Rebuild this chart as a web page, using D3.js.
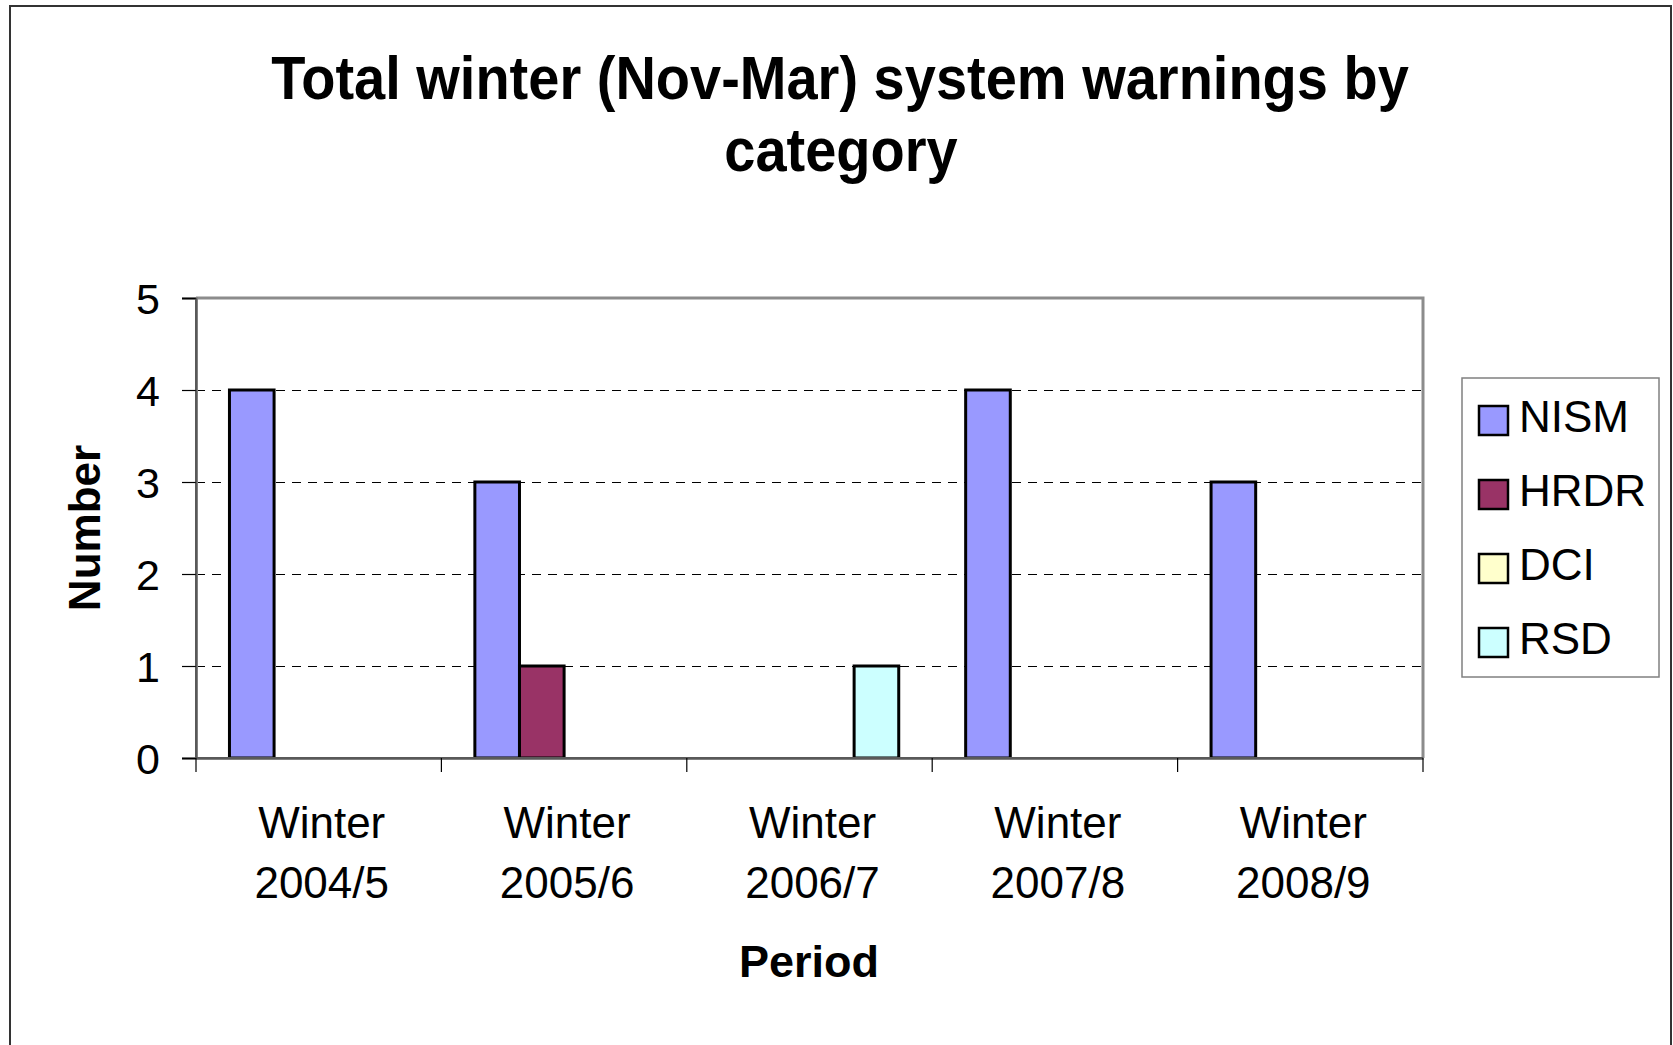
<!DOCTYPE html>
<html>
<head>
<meta charset="utf-8">
<script src="https://cdn.jsdelivr.net/npm/d3@7"></script>
<style>
  html, body { margin: 0; padding: 0; background: #fff; }
  svg { display: block; font-family: Arial, "Liberation Sans", sans-serif; }
</style>
</head>
<body>
<svg id="chart" width="1673" height="1045"></svg>
<script>
const categories = ["Winter 2004/5", "Winter 2005/6", "Winter 2006/7", "Winter 2007/8", "Winter 2008/9"];
const seriesNames = ["NISM", "HRDR", "DCI", "RSD"];
const seriesColors = ["#9999FF", "#993366", "#FFFFCC", "#CCFFFF"];
const NISM = [4, 3, 0, 4, 3];
const HRDR = [0, 1, 0, 0, 0];
const DCI  = [0, 0, 0, 0, 0];
const RSD  = [0, 0, 1, 0, 0];
const yTicks = [0, 1, 2, 3, 4, 5];
const titleLines = ["Total winter (Nov-Mar) system warnings by", "category"];
const xTitle = "Period";
const yTitle = "Number";

const seriesValues = [NISM, HRDR, DCI, RSD];

const svg = d3.select("#chart");

// outer frame
svg.append("rect").attr("x", 10).attr("y", 6).attr("width", 1661).attr("height", 1100)
  .attr("fill", "#fff").attr("stroke", "#333").attr("stroke-width", 2);

const plot = { left: 196, top: 298, right: 1423, bottom: 758 };

const x0 = d3.scaleBand().domain(categories).range([plot.left, plot.right]).padding(0);
const x1 = d3.scaleBand().domain(seriesNames).range([0, x0.bandwidth()]).paddingInner(0).paddingOuter(0.75);
const y = d3.scaleLinear().domain([0, 5]).range([plot.bottom, plot.top]);

// gridlines
svg.append("g").selectAll("line").data(yTicks.filter(t => t > 0 && t < 5)).join("line")
  .attr("x1", plot.left).attr("x2", plot.right)
  .attr("y1", d => Math.round(y(d)) + 0.5).attr("y2", d => Math.round(y(d)) + 0.5)
  .attr("stroke", "#000").attr("stroke-width", 1).attr("stroke-dasharray", "9,7");

// plot frame top/right
svg.append("path")
  .attr("d", `M${plot.left},${plot.top}H${plot.right}V${plot.bottom}`)
  .attr("fill", "none").attr("stroke", "#8c8c8c").attr("stroke-width", 3);

// bars
const bars = [];
categories.forEach((c, ci) => {
  seriesNames.forEach((s, si) => {
    const v = seriesValues[si][ci];
    if (v > 0) bars.push({ c, s, v, color: seriesColors[si] });
  });
});
svg.append("g").selectAll("rect").data(bars).join("rect")
  .attr("x", d => x0(d.c) + x1(d.s))
  .attr("width", x1.bandwidth())
  .attr("y", d => y(d.v))
  .attr("height", d => y(0) - y(d.v))
  .attr("fill", d => d.color)
  .attr("stroke", "#000").attr("stroke-width", 3);

// y axis
const yAxis = d3.axisLeft(y).tickValues(yTicks).tickSize(14).tickPadding(22).tickFormat(d3.format("d"));
const gy = svg.append("g").attr("transform", `translate(${plot.left},0)`).call(yAxis);
gy.select(".domain").attr("stroke", "#808080").attr("stroke-width", 3);
gy.selectAll(".tick line").attr("stroke", "#000").attr("stroke-width", 1.2);
gy.selectAll(".tick text").attr("font-size", 43).attr("fill", "#000")
  .attr("font-family", "Arial, 'Liberation Sans', sans-serif").attr("dy", "0.36em");
svg.append("line").attr("x1", plot.left).attr("x2", plot.left).attr("y1", plot.top).attr("y2", plot.bottom)
  .attr("stroke", "#333").attr("stroke-width", 1);

// x axis
const xAxis = d3.axisBottom(x0).tickSize(0).tickFormat(() => "");
const gx = svg.append("g").attr("transform", `translate(0,${plot.bottom})`).call(xAxis);
gx.select(".domain").attr("stroke", "#808080").attr("stroke-width", 3);
svg.append("line").attr("x1", plot.left).attr("x2", plot.right).attr("y1", plot.bottom).attr("y2", plot.bottom)
  .attr("stroke", "#333").attr("stroke-width", 1);
// category boundary ticks
const boundaries = categories.map(c => x0(c)).concat([plot.right]);
svg.append("g").selectAll("line").data(boundaries).join("line")
  .attr("x1", d => d).attr("x2", d => d)
  .attr("y1", plot.bottom).attr("y2", plot.bottom + 14)
  .attr("stroke", "#000").attr("stroke-width", 1.2);

// category labels (two lines)
const labelG = svg.append("g").attr("font-size", 44).attr("fill", "#000").attr("text-anchor", "middle");
categories.forEach(c => {
  const parts = c.split(" ");
  const cx = x0(c) + x0.bandwidth() / 2 + 3;
  labelG.append("text").attr("x", cx).attr("y", 838).text(parts[0]);
  labelG.append("text").attr("x", cx).attr("y", 898).text(parts[1]);
});

// titles
const tg = svg.append("g").attr("font-weight", "bold").attr("text-anchor", "middle").attr("fill", "#000");
tg.append("text").attr("transform", "translate(840,99) scale(1,1.1)").attr("font-size", 56).text(titleLines[0]);
tg.append("text").attr("transform", "translate(841,171) scale(1,1.1)").attr("font-size", 56).text(titleLines[1]);
tg.append("text").attr("x", 809).attr("y", 977).attr("font-size", 45).text(xTitle);
tg.append("text").attr("transform", `translate(100,${(plot.top + plot.bottom) / 2}) rotate(-90)`)
  .attr("font-size", 44).text(yTitle);

// legend
const leg = svg.append("g");
leg.append("rect").attr("x", 1462).attr("y", 378).attr("width", 197).attr("height", 299)
  .attr("fill", "#fff").attr("stroke", "#808080").attr("stroke-width", 1.5);
const ly = d3.scalePoint().domain(seriesNames).range([420, 642]);
seriesNames.forEach((s, i) => {
  leg.append("rect").attr("x", 1479).attr("y", ly(s) - 14).attr("width", 29).attr("height", 29)
    .attr("fill", seriesColors[i]).attr("stroke", "#000").attr("stroke-width", 2.5);
  leg.append("text").attr("x", 1519).attr("y", ly(s) + 12).attr("font-size", 44).attr("fill", "#000").text(s);
});
</script>
</body>
</html>
